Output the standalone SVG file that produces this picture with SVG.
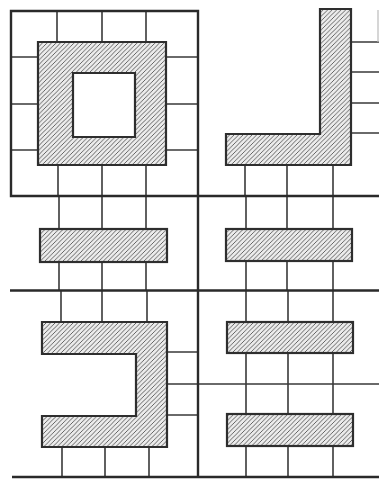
<svg xmlns="http://www.w3.org/2000/svg" width="379" height="479" viewBox="0 0 379 479">
<defs>
<pattern id="hatch" width="4.5" height="4.5" patternUnits="userSpaceOnUse">
<rect width="4.5" height="4.5" fill="#ececec"/>
<path d="M-1,1 L1,-1 M0,4.5 L4.5,0 M3.5,5.5 L5.5,3.5" stroke="#555" stroke-width="0.9"/>
</pattern>
</defs>
<style>
.g{stroke:#3a3a3a;stroke-width:1.6;fill:none}
.b{stroke:#2a2a2a;stroke-width:2.4;fill:none}
.h{fill:url(#hatch);stroke:#2e2e2e;stroke-width:2.2;stroke-linejoin:miter}
</style>
<rect width="379" height="479" fill="#fff"/>
<g id="grid-lines">
<path class="g" d="M11,57H38M11,104H38M11,150H38M166,57H197M166,104H197M166,150H197M57,11V42M102,11V42M146,11V42M58,165V196M102,165V196M146,165V196"/>
<path class="g" d="M59,196V229M102,196V229M146,196V229M59,262V290M102,262V290M146,262V290"/>
<path class="g" d="M61,290V322M102,290V322M147,290V322M62,447V477M105,447V477M149,447V477M167,352H198M167,384H198M167,415H198"/>
<path class="g" d="M351,42H379M351,72H379M351,103H379M351,133H379M245,165V196M287,165V196M333,165V196"/>
<path class="g" d="M246,196V229M287,196V229M333,196V229M246,261V290M287,261V290M333,261V290"/>
<path class="g" d="M246,290V322M288,290V322M333,290V322M246,353V414M288,353V414M333,353V414M246,446V477M288,446V477M333,446V477M198,384H379"/>
<path d="M378,10V42" stroke="#bbb" stroke-width="1.2"/>
</g>
<g id="frame">
<path class="b" d="M198,196V11H11V196H379M198,196V477M10,290.5H379M12,477H379"/>
</g>
<g id="square-ring">
<path class="h" fill-rule="evenodd" d="M38,42H166V165H38Z M73,73V137H135V73Z"/>
</g>
<g id="l-shape">
<path class="h" d="M320,9H351V165H226V134H320Z"/>
</g>
<g id="bar-left-middle">
<rect class="h" x="40" y="229" width="127" height="33"/>
</g>
<g id="bar-right-middle">
<rect class="h" x="226" y="229" width="126" height="32"/>
</g>
<g id="c-shape">
<path class="h" d="M42,322H167V447H42V416H136V354H42Z"/>
</g>
<g id="bar-right-upper">
<rect class="h" x="227" y="322" width="126" height="31"/>
</g>
<g id="bar-right-lower">
<rect class="h" x="227" y="414" width="126" height="32"/>
</g>
</svg>
